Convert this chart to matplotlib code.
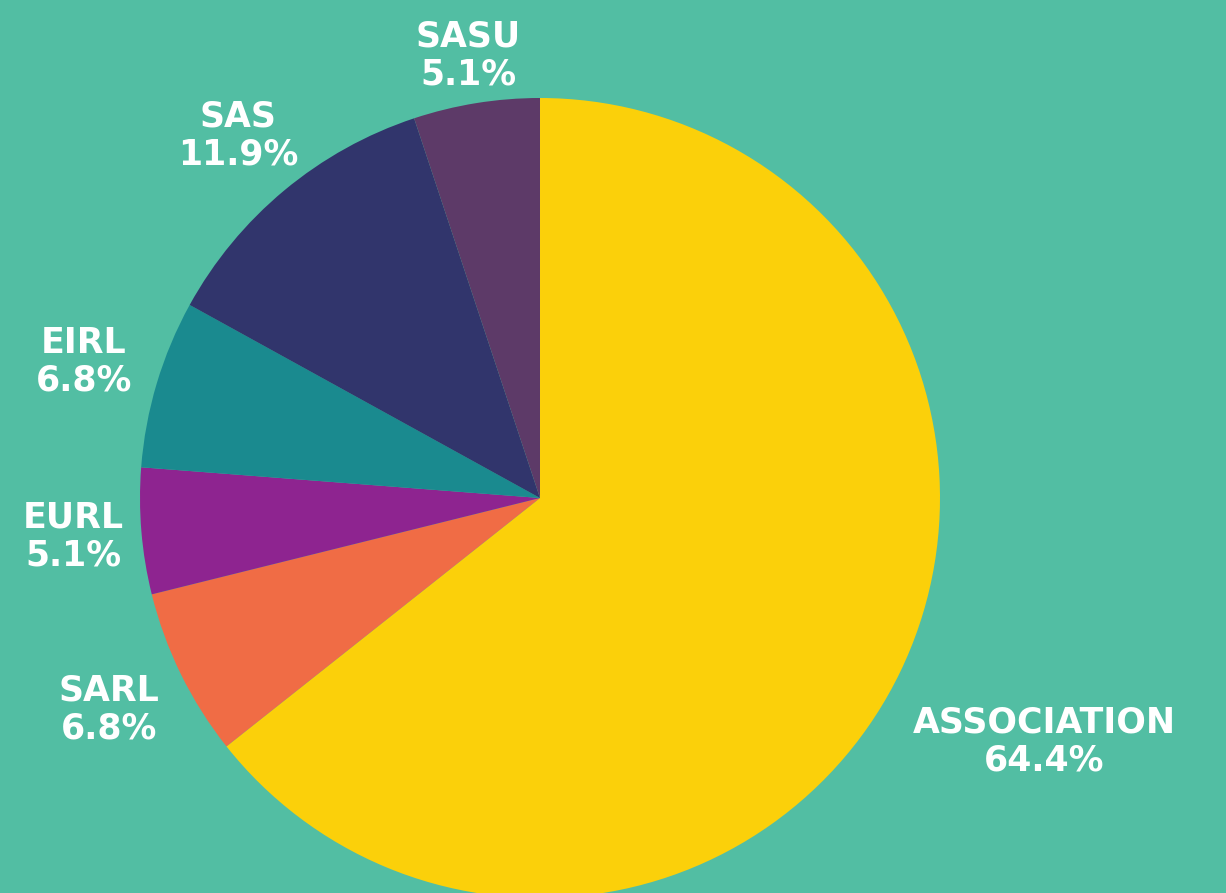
import numpy as np
import matplotlib.pyplot as plt

# slice data, clockwise from 12 o'clock
labels = ['ASSOCIATION', 'SARL', 'EURL', 'EIRL', 'SAS', 'SASU']
shares = [64.4, 6.8, 5.1, 6.8, 11.9, 5.1]

colors = ['#FBD00A', '#F06C45', '#8E2490', '#1A8A8F', '#31356C', '#5D3A68']
label_radius = [1.40, 1.20, 1.17, 1.19, 1.18, 1.12]
bg = '#52BEA3'

W, H = 1226, 893
cx, cy, R = 540, 498, 400

fig = plt.figure(figsize=(W / 100, H / 100), dpi=100, facecolor=bg)
ax = fig.add_axes([0, 0, 1, 1])
ax.set_facecolor(bg)

wedges, _ = ax.pie(shares, colors=colors, startangle=90, counterclock=False,
                   radius=1, wedgeprops=dict(linewidth=0))

# labels at the middle angle of each wedge
for w, lab, val, r in zip(wedges, labels, shares, label_radius):
    ang = np.deg2rad((w.theta1 + w.theta2) / 2)
    ax.text(r * np.cos(ang), r * np.sin(ang), '{}\n{:.1f}%'.format(lab, val),
            ha='center', va='center', color='white', fontsize=25,
            fontweight='bold', linespacing=1.15)

ax.set_xlim(-cx / R, (W - cx) / R)
ax.set_ylim(-(H - cy) / R, cy / R)
ax.set_aspect('auto')
ax.axis('off')

fig.savefig('out.png', dpi=100, facecolor=bg)
